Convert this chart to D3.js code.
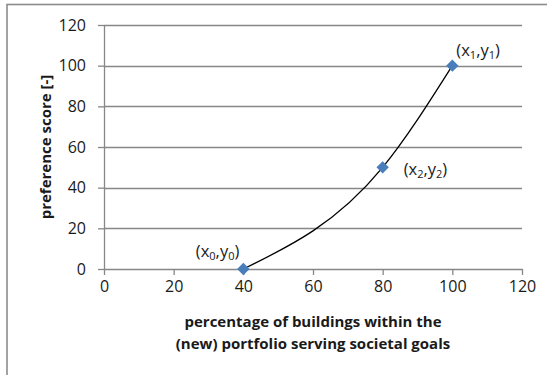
<!DOCTYPE html>
<html>
<head>
<meta charset="utf-8">
<script src="https://cdn.jsdelivr.net/npm/d3@7/dist/d3.min.js"></script>
<style>
  html, body { margin: 0; padding: 0; background: #fff; }
  svg { display: block; font-family: "Open Sans", Lato, sans-serif; }
</style>
</head>
<body>
<svg id="chart" width="547" height="375"></svg>
<script>
// Preference curve: share of buildings vs. preference score
const xValues = [40, 80, 100];
const yValues = [0, 50, 100];
const pointSubscripts = ["0", "2", "1"];
const xTicks = [0, 20, 40, 60, 80, 100, 120];
const yTicks = [0, 20, 40, 60, 80, 100, 120];
const xTitleLines = ["percentage of buildings within the", "(new) portfolio serving societal goals"];
const yTitle = "preference score [-]";

const FONT = "'Open Sans', Lato, sans-serif";
const svg = d3.select("#chart");
const plot = { left: 104, right: 522, top: 25, bottom: 269 };
const gridColor = "#878787";
const textColor = "#1a1a1a";

// outer chart frame (runs off the right and bottom edges)
svg.append("rect")
  .attr("x", 7).attr("y", 4.5)
  .attr("width", 700).attr("height", 500)
  .attr("fill", "none")
  .attr("stroke", "#8c8c8c")
  .attr("stroke-width", 1.6);

const x = d3.scaleLinear().domain([0, 120]).range([plot.left, plot.right]);
const y = d3.scaleLinear().domain([0, 120]).range([plot.bottom, plot.top]);

// horizontal gridlines
svg.append("g")
  .selectAll("line")
  .data(yTicks.filter(t => t !== 0))
  .join("line")
  .attr("x1", plot.left).attr("x2", plot.right)
  .attr("y1", d => Math.round(y(d)) + 0.5).attr("y2", d => Math.round(y(d)) + 0.5)
  .attr("stroke", gridColor).attr("stroke-width", 1.3);

// y axis
const yAxis = svg.append("g")
  .attr("transform", `translate(${plot.left},0)`)
  .call(d3.axisLeft(y).tickValues(yTicks).tickSize(6).tickPadding(6).tickSizeOuter(0));
// x axis
const xAxis = svg.append("g")
  .attr("transform", `translate(0,${plot.bottom})`)
  .call(d3.axisBottom(x).tickValues(xTicks).tickSize(6).tickPadding(6).tickSizeOuter(0));

[yAxis, xAxis].forEach(g => {
  g.select(".domain").attr("stroke", gridColor).attr("stroke-width", 1.3);
  g.selectAll(".tick line").attr("stroke", gridColor).attr("stroke-width", 1.3);
  g.selectAll(".tick text")
    .attr("fill", textColor)
    .style("font-family", FONT)
    .style("font-size", "16px");
});
yAxis.selectAll(".tick text").attr("x", -18);
xAxis.selectAll(".tick text").attr("y", 12);

// axis titles
const xTitle = svg.append("text")
  .attr("text-anchor", "middle")
  .attr("font-weight", "bold")
  .attr("font-size", "15px")
  .attr("fill", textColor);
xTitleLines.forEach((line, i) => {
  xTitle.append("tspan")
    .attr("x", (plot.left + plot.right) / 2)
    .attr("y", 327 + i * 22)
    .text(line);
});

svg.append("text")
  .attr("transform", `translate(51,${(plot.top + plot.bottom) / 2}) rotate(-90)`)
  .attr("text-anchor", "middle")
  .attr("font-weight", "bold")
  .attr("font-size", "15px")
  .attr("fill", textColor)
  .text(yTitle);

// smoothed curve through the points
const points = xValues.map((v, i) => ({ x: v, y: yValues[i], sub: pointSubscripts[i] }));
svg.append("path")
  .datum(points)
  .attr("d", d3.line().x(d => x(d.x)).y(d => y(d.y)).curve(d3.curveMonotoneX))
  .attr("fill", "none")
  .attr("stroke", "#000")
  .attr("stroke-width", 1.3);

// diamond markers
svg.append("g")
  .selectAll("path")
  .data(points)
  .join("path")
  .attr("transform", d => `translate(${x(d.x)},${y(d.y)})`)
  .attr("d", "M0,-6.2L6.2,0L0,6.2L-6.2,0Z")
  .attr("fill", "#4a7ebb");

// point labels (x_i, y_i) with subscripts
const labelOffsets = [
  { dx: -4, dy: -12, anchor: "end" },
  { dx: 21, dy: 8, anchor: "start" },
  { dx: 4, dy: -10, anchor: "start" }
];
points.forEach((p, i) => {
  const o = labelOffsets[i];
  const t = svg.append("text")
    .attr("x", x(p.x) + o.dx)
    .attr("y", y(p.y) + o.dy)
    .attr("text-anchor", o.anchor)
    .attr("font-size", "16.5px")
    .attr("fill", textColor);
  t.append("tspan").text("(x");
  t.append("tspan").attr("font-size", "11px").attr("dy", 3).text(p.sub);
  t.append("tspan").attr("dy", -3).text(",y");
  t.append("tspan").attr("font-size", "11px").attr("dy", 3).text(p.sub);
  t.append("tspan").attr("dy", -3).text(")");
});
</script>
</body>
</html>
